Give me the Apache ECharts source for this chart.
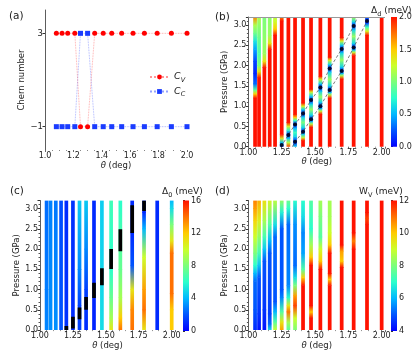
<!DOCTYPE html>
<html><head><meta charset="utf-8">
<script src="https://cdn.jsdelivr.net/npm/echarts@6/dist/echarts.min.js"></script>
<style>html,body{margin:0;padding:0;background:#fff}#c{width:416px;height:351px}</style>
</head><body><div id="c"></div><script>
// ---------- data ----------
const thetaA = [1.08,1.12,1.16,1.21,1.25,1.30,1.35,1.41,1.47,1.54,1.62,1.70,1.79,1.89,2.00];
const chernV = [3,3,3,3,-1,-1,3,3,3,3,3,3,3,3,3];
const chernC = [-1,-1,-1,-1,3,3,-1,-1,-1,-1,-1,-1,-1,-1,-1];
const chernTicks = [-1,3];

const thetaCols = [1.05,1.08,1.12,1.16,1.20,1.25,1.30,1.35,1.41,1.47,1.54,1.61,1.70,1.79,1.89,2.00];

// (b) Delta_d (meV): per column [pressure, value] stops
const deltaD = [
 [[0,2],[1.2,2],[1.3,1.5],[1.4,0.9],[1.55,0.3],[1.8,0.1],[2.1,0.2],[2.4,0.45],[2.6,0.65],[2.8,0.95],[3.0,1.15],[3.2,1.7]],
 [[0,2],[1.7,2],[1.85,1.4],[2.0,1.0],[2.3,0.85],[2.7,0.95],[3.2,1.15]],
 [[0,2],[1.95,2],[2.1,1.4],[2.3,1.1],[3.2,1.0]],
 [[0,2],[2.4,2],[2.55,1.4],[2.75,1.1],[3.2,1.05]],
 [[0,2],[2.75,2],[2.9,1.5],[3.1,1.25],[3.2,1.2]],
 [[0,0.1],[0.1,0.5],[0.2,1.3],[0.3,2],[3.1,2],[3.2,1.7]],
 [[0,1.9],[0.1,1.2],[0.2,0.6],[0.29,0.1],[0.4,0.7],[0.5,1.3],[0.6,2],[3.2,2]],
 [[0,0.6],[0.12,0.05],[0.25,0.6],[0.35,0.8],[0.45,0.5],[0.55,0.05],[0.65,0.8],[0.72,1.5],[0.8,2],[3.2,2]],
 [[0,2],[0.15,2],[0.22,1.3],[0.3,0.6],[0.37,0.05],[0.47,0.6],[0.6,1.0],[0.72,0.6],[0.82,0.05],[0.92,0.6],[1.0,1.3],[1.08,2],[3.2,2]],
 [[0,2],[0.48,2],[0.56,1.2],[0.62,0.5],[0.68,0.05],[0.78,0.6],[0.92,1.1],[1.05,0.6],[1.15,0.05],[1.25,0.6],[1.35,1.3],[1.42,2],[3.2,2]],
 [[0,2],[0.8,2],[0.88,1.2],[0.94,0.5],[1.0,0.05],[1.1,0.6],[1.23,1.1],[1.36,0.6],[1.46,0.05],[1.56,0.6],[1.66,1.3],[1.74,2],[3.2,2]],
 [[0,2],[1.2,2],[1.28,1.2],[1.34,0.5],[1.40,0.05],[1.5,0.6],[1.66,1.1],[1.83,0.6],[1.93,0.05],[2.03,0.6],[2.13,1.3],[2.21,2],[3.2,2]],
 [[0,2],[1.67,2],[1.75,1.2],[1.81,0.5],[1.87,0.05],[1.97,0.6],[2.14,1.1],[2.31,0.6],[2.41,0.05],[2.51,0.6],[2.61,1.3],[2.69,2],[3.2,2]],
 [[0,2],[2.25,2],[2.33,1.2],[2.39,0.5],[2.45,0.05],[2.55,0.6],[2.72,1.1],[2.88,0.6],[2.98,0.05],[3.08,0.6],[3.2,1.2]],
 [[0,2],[2.75,2],[2.85,1.3],[2.95,0.8],[3.05,0.2],[3.1,0.05],[3.2,0.3]],
 [[0,2],[3.2,2]]
];
const dotsB = [[1.25,0.04],[1.30,0.29],[1.35,0.55],[1.35,0.12],[1.41,0.82],[1.41,0.37],[1.47,1.15],[1.47,0.68],[1.54,1.46],[1.54,1.0],[1.61,1.93],[1.61,1.40],[1.70,2.41],[1.70,1.87],[1.79,2.98],[1.79,2.45],[1.89,3.1]];
const lineUpperB = [[1.245,0],[1.30,0.29],[1.35,0.55],[1.41,0.82],[1.47,1.15],[1.54,1.46],[1.61,1.93],[1.70,2.41],[1.79,2.98],[1.82,3.2]];
const lineLowerB = [[1.33,0],[1.35,0.12],[1.41,0.37],[1.47,0.68],[1.54,1.0],[1.61,1.40],[1.70,1.87],[1.79,2.45],[1.89,3.1],[1.90,3.2]];

// (c) Delta_0 (meV)
const delta0 = [
 [[0,3.0],[1.0,2.8],[3.2,2.5]],
 [[0,3.2],[3.2,2.9]],
 [[0,3.2],[3.2,2.7]],
 [[0,2.0],[3.2,1.8]],
 [[0,1.2],[3.2,1.0]],
 [[0,1.0],[3.2,1.2]],
 [[0,1.5],[0.6,1.5],[1.5,3],[3.2,4.5]],
 [[0,1.0],[1.0,1.5],[2.0,3],[3.2,4.5]],
 [[0,0.8],[3.2,1.0]],
 [[0,5.0],[3.2,4.6]],
 [[0,11],[0.3,9],[0.8,7.5],[1.5,6],[3.2,6.5]],
 [[0,14],[0.3,12],[0.8,9],[1.5,7.5],[3.2,6]],
 [[0,14],[0.5,13.5],[1.0,11],[1.6,2],[2.4,1],[3.2,1]],
 [[0,11],[0.5,14],[1.0,13],[1.8,10],[2.5,4],[2.9,1],[3.2,1]],
 [[0,1],[3.2,1]],
 [[0,12],[0.5,12],[0.9,14],[1.9,14],[2.2,11],[2.6,8],[3.0,5],[3.2,4]]
];
const blackC = [[1.20,0,0.1],[1.25,0.04,0.33],[1.30,0.27,0.56],[1.35,0.5,0.82],[1.41,0.79,1.17],[1.47,1.11,1.53],[1.54,1.51,2.0],[1.61,1.95,2.49],[1.70,2.4,3.08],[1.79,2.94,3.2]];

// (d) W_V (meV)
const wV = [
 [[0,4.5],[0.5,5],[1.2,5.2],[1.4,6],[1.6,7],[1.9,8],[2.3,9],[2.7,9.8],[3.0,10.5],[3.2,10.8]],
 [[0,4.2],[0.4,4.6],[1.3,5],[1.6,6.2],[1.9,7.3],[2.3,8.3],[2.7,9.3],[3.2,10.3]],
 [[0,4.2],[0.5,4.6],[1.7,5],[2.0,6.2],[2.3,7.3],[2.7,8.5],[3.2,9.6]],
 [[0,6.5],[0.15,5.2],[0.4,4.7],[1.9,5],[2.2,6],[2.6,7.5],[3.2,9.2]],
 [[0,9.0],[0.2,7.5],[0.45,6],[0.7,5],[2.3,5.2],[2.6,6.5],[3.2,8.8]],
 [[0,10.5],[0.2,9.5],[0.45,7.5],[0.8,5.5],[1.0,5],[2.5,5],[2.9,6.8],[3.2,8.3]],
 [[0,7.5],[0.2,8.5],[0.45,11],[0.6,9.5],[0.8,7],[1.1,5.5],[2.6,5.2],[3.0,7],[3.2,7.8]],
 [[0,8],[0.3,9],[0.6,11.5],[0.85,10.5],[1.1,8],[1.3,6.5],[1.6,5.2],[2.6,5.6],[3.2,7]],
 [[0,12],[1.1,12],[1.3,10],[1.5,7.5],[1.9,5.8],[2.4,5.5],[2.8,6.5],[3.2,7]],
 [[0,12],[0.3,12],[0.45,10],[0.6,12],[1.6,12],[1.8,10],[2.1,8.5],[2.5,7],[3.2,7.5]],
 [[0,12],[1.5,12],[1.7,10],[2.0,9],[2.3,7.5],[2.8,8],[3.2,8.5]],
 [[0,12],[1.1,12],[1.25,10],[1.4,12],[1.9,12],[2.1,10],[2.4,9],[2.8,8.5],[3.2,8.5]],
 [[0,12],[1.55,12],[1.7,10],[1.95,10.5],[2.1,12],[3.2,12]],
 [[0,12],[2.0,12],[2.2,10.8],[2.4,12],[3.2,12]],
 [[0,12],[2.6,12],[2.75,11.5],[2.9,12],[3.2,12]],
 [[0,12],[3.2,12]]
];

const rangeB = [0,2], rangeC = [0,16], rangeD = [4,12];

// ---------- helpers ----------
const FONT = 'DejaVu Sans';
const jet = ['#0000ff','#0054ff','#00b8ff','#2bffcc','#7bff7b','#ccff2b','#ffcc00','#ff7000','#ff1200'];
const COLW = 0.028;
function colorOf(v, r){ let t=(v-r[0])/(r[1]-r[0]); t=Math.max(0,Math.min(1,t)); return echarts.color.lerp(t, jet); }
function segs(cols){ const out=[]; cols.forEach((st,i)=>{ for(let k=0;k<st.length-1;k++) out.push([thetaCols[i],st[k][0],st[k+1][0],st[k][1],st[k+1][1]]); }); return out; }
function colSeries(ai, cols, r, extra){
  return Object.assign({type:'custom', xAxisIndex:ai, yAxisIndex:ai, data:segs(cols), encode:{x:0,y:[1,2]}, clip:true, silent:true,
    renderItem:(p,api)=>{ const th=api.value(0),p0=api.value(1),p1=api.value(2);
      const tl=api.coord([th-COLW/2,p1]), br=api.coord([th+COLW/2,p0]);
      return {type:'rect', shape:{x:tl[0],y:tl[1]-0.3,width:br[0]-tl[0],height:br[1]-tl[1]+0.6},
        style:{fill:new echarts.graphic.LinearGradient(0,0,0,1,[{offset:0,color:colorOf(api.value(4),r)},{offset:1,color:colorOf(api.value(3),r)}])}}; }}, extra||{});
}
function cbarSeries(ai, r){
  return {type:'custom', xAxisIndex:ai, yAxisIndex:ai, data:[[0]], silent:true,
    renderItem:(p,api)=>{ const tl=api.coord([0,r[1]]), br=api.coord([1,r[0]]);
      const stops = jet.map((c,i)=>({offset:1-i/(jet.length-1), color:c}));
      return {type:'rect', shape:{x:tl[0],y:tl[1],width:br[0]-tl[0],height:br[1]-tl[1]}, style:{fill:new echarts.graphic.LinearGradient(0,0,0,1,stops.reverse())}}; }};
}
const tickLab = {fontFamily:FONT, fontSize:8, color:'#222', margin:2};
const nameStyle = {fontFamily:FONT, fontSize:8.5, color:'#222', rich:{i:{fontFamily:FONT,fontSize:8.5,fontStyle:'italic',color:'#222'}}};
const axLine = {show:true, lineStyle:{color:'#333', width:0.8}};
function thetaAxis(gi, max, iv, dec){
  return {type:'value', gridIndex:gi, min:1.0, max:max, interval:iv, name:'{i|θ} (deg)', nameLocation:'middle', nameGap:10, nameTextStyle:nameStyle,
    axisLine:{show:false, onZero:false}, axisTick:{show:true, length:2, lineStyle:{color:'#666'}}, minorTick:{show:true, splitNumber:dec===1?4:5, length:1, lineStyle:{color:'#888'}},
    splitLine:{show:false}, axisLabel:Object.assign({}, tickLab, {formatter:v=>v.toFixed(dec)})};
}
function pAxis(gi){
  return {type:'value', gridIndex:gi, min:0, max:3.2, interval:0.5, name:'Pressure (GPa)', nameLocation:'middle', nameGap:18, nameTextStyle:nameStyle,
    axisLine:Object.assign({onZero:false}, axLine), axisTick:{show:true,length:2.5,lineStyle:{color:'#333'}}, minorTick:{show:true,splitNumber:5,length:1.5,lineStyle:{color:'#555'}},
    splitLine:{show:false}, axisLabel:Object.assign({}, tickLab, {showMaxLabel:false, formatter:v=>v.toFixed(1)})};
}
function cbX(gi){ return {type:'value', gridIndex:gi, min:0, max:1, show:false}; }
function cbY(gi, r, iv, dec){
  return {type:'value', gridIndex:gi, position:'right', min:r[0], max:r[1], interval:iv, axisLine:{show:false},
    axisTick:{show:true,length:2,lineStyle:{color:'#333'}}, splitLine:{show:false}, axisLabel:Object.assign({}, tickLab, {formatter:v=>v.toFixed(dec)})};
}
const panelLab = {fontFamily:FONT,fontSize:10.5,fontWeight:'normal',color:'#222'};
const cbTitle = {fontFamily:FONT,fontSize:9,fontWeight:'normal',color:'#222',rich:{s:{fontFamily:FONT,fontSize:6.5,verticalAlign:'bottom',lineHeight:15,color:'#222'}}};

const GB = {left:248.4, top:17, width:136.6, height:129.7};
const GC = {left:40, top:200.5, width:135, height:130.5};
const GD = {left:248.4, top:200.5, width:136.6, height:130.5};

const chart = echarts.init(document.getElementById('c'), null, {renderer:'canvas'});
chart.setOption({
  animation:false,
  textStyle:{fontFamily:FONT},
  title:[
    {text:'(a)', left:4, top:6, textStyle:panelLab},
    {text:'(b)', left:210, top:7, textStyle:panelLab},
    {text:'(c)', left:5, top:181, textStyle:panelLab},
    {text:'(d)', left:210, top:181, textStyle:panelLab},
    {text:'Δ{s|d} (meV)', left:366, top:-2, textStyle:cbTitle},
    {text:'Δ{s|0} (meV)', left:157, top:179, textStyle:cbTitle},
    {text:'W{s|V} (meV)', left:354, top:179, textStyle:cbTitle}
  ],
  legend:{data:['Cv','Cc'], left:144, top:67, orient:'vertical', itemWidth:19, itemHeight:6, itemGap:3,
    formatter:n=> n==='Cv' ? '{i|C}{s|V}' : '{i|C}{s|C}',
    textStyle:{fontFamily:FONT, rich:{i:{fontFamily:FONT,fontSize:9.5,fontStyle:'italic',color:'#222'}, s:{fontFamily:FONT,fontSize:6.5,fontStyle:'italic',verticalAlign:'bottom',lineHeight:13,color:'#222'}}}},
  grid:[
    {left:45, top:10, width:142, height:140},
    GB,
    {left:391, top:17, width:6, height:129.7},
    GC,
    {left:183, top:200.5, width:6, height:130.5},
    GD,
    {left:391, top:200.5, width:6, height:130.5}
  ],
  xAxis:[
    thetaAxis(0, 2.0, 0.2, 1),
    thetaAxis(1, 2.025, 0.25, 2),
    cbX(2),
    thetaAxis(3, 2.025, 0.25, 2),
    cbX(4),
    thetaAxis(5, 2.025, 0.25, 2),
    cbX(6)
  ],
  yAxis:[
    {type:'value', gridIndex:0, min:-2, max:4, name:'Chern number', nameLocation:'middle', nameGap:14, nameTextStyle:nameStyle,
      axisLine:Object.assign({onZero:false}, axLine), axisTick:{show:true,length:2.5,customValues:chernTicks,lineStyle:{color:'#333'}}, splitLine:{show:false},
      axisLabel:Object.assign({}, tickLab, {fontSize:8.5, customValues:chernTicks, formatter:v=> v<0 ? '−'+Math.abs(v) : String(v)})},
    pAxis(1),
    cbY(2, rangeB, 0.5, 1),
    pAxis(3),
    cbY(4, rangeC, 4, 0),
    pAxis(5),
    cbY(6, rangeD, 2, 0)
  ],
  series:[
    {name:'Cv', type:'line', xAxisIndex:0, yAxisIndex:0, data:thetaA.map((t,i)=>[t,chernV[i]]), symbol:'circle', symbolSize:5,
      itemStyle:{color:'#ff0000'}, lineStyle:{color:'rgba(255,80,80,0.6)', width:0.8, type:'dotted'}, z:3},
    {name:'Cc', type:'line', xAxisIndex:0, yAxisIndex:0, data:thetaA.map((t,i)=>[t,chernC[i]]), symbol:'rect', symbolSize:5,
      itemStyle:{color:'#1a3cff'}, lineStyle:{color:'rgba(80,100,255,0.6)', width:0.8, type:'dotted'}, z:2},
    colSeries(1, deltaD, rangeB, {markLine:{silent:true, symbol:'none', label:{show:false}, lineStyle:{color:'#999', width:1, type:'solid'}, data:[{yAxis:3.2}]}}),
    {type:'line', xAxisIndex:1, yAxisIndex:1, data:lineUpperB, symbol:'none', lineStyle:{color:'#444', width:0.7, type:[3,2]}, clip:true, z:4},
    {type:'line', xAxisIndex:1, yAxisIndex:1, data:lineLowerB, symbol:'none', lineStyle:{color:'#444', width:0.7, type:[3,2]}, clip:true, z:4},
    {type:'scatter', xAxisIndex:1, yAxisIndex:1, data:dotsB, symbol:'circle', symbolSize:4, itemStyle:{color:'#000'}, z:5},
    cbarSeries(2, rangeB),
    colSeries(3, delta0, rangeC),
    {type:'custom', xAxisIndex:3, yAxisIndex:3, data:blackC, encode:{x:0,y:[1,2]}, clip:true, silent:true, z:4,
      renderItem:(p,api)=>{ const th=api.value(0); const tl=api.coord([th-COLW/2,api.value(2)]), br=api.coord([th+COLW/2,api.value(1)]);
        return {type:'rect', shape:{x:tl[0],y:tl[1],width:br[0]-tl[0],height:br[1]-tl[1]}, style:{fill:'#000'}}; }},
    cbarSeries(4, rangeC),
    colSeries(5, wV, rangeD),
    cbarSeries(6, rangeD)
  ]
});
</script></body></html>
